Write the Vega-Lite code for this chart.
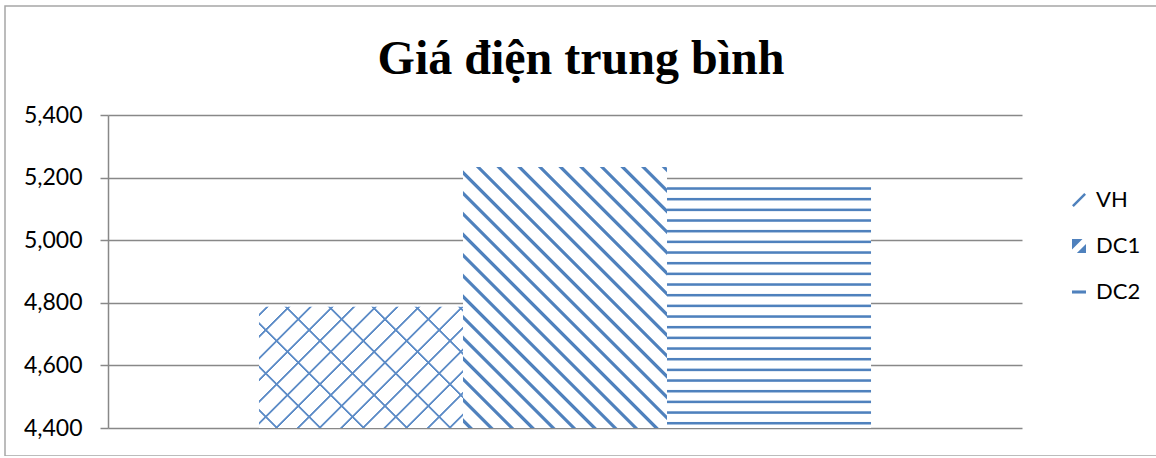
{
  "$schema": "https://vega.github.io/schema/vega-lite/v6.json",
  "width": 1160,
  "height": 450,
  "autosize": {"type": "none"},
  "padding": {"left": 5, "top": 6, "right": 0, "bottom": 0},
  "background": "white",
  "title": {
    "text": "Giá điện trung bình",
    "font": "Liberation Serif",
    "fontSize": 48,
    "fontWeight": "bold",
    "color": "black",
    "anchor": "middle",
    "baseline": "alphabetic",
    "offset": -116,
    "dx": -4
  },
  "data": {
    "values": [
      {"series": "VH", "price": 4787},
      {"series": "DC1", "price": 5234},
      {"series": "DC2", "price": 5175}
    ]
  },
  "encoding": {
    "x": {
      "field": "series",
      "type": "nominal",
      "sort": ["VH", "DC1", "DC2"],
      "scale": {"domain": ["VH", "DC1", "DC2"], "range": [103, 1017], "paddingInner": 0, "paddingOuter": 0.74},
      "axis": null
    },
    "y": {
      "field": "price",
      "type": "quantitative",
      "scale": {"domain": [4400, 5400], "range": [422, 109], "nice": false, "zero": false},
      "axis": {
        "title": null,
        "orient": "left",
        "offset": -103,
        "values": [4400, 4600, 4800, 5000, 5200, 5400],
        "format": ",d",
        "grid": true,
        "gridColor": "#888888",
        "gridWidth": 1.5,
        "domain": true,
        "domainColor": "#888888",
        "domainWidth": 1.5,
        "ticks": true,
        "tickColor": "#888888",
        "tickWidth": 1.5,
        "tickSize": 8,
        "labelPadding": 18,
        "labelFont": "Lato",
        "labelFontSize": 23,
        "labelColor": "black"
      }
    }
  },
  "layer": [
    {
      "transform": [{"filter": "datum.series === 'VH'"}],
      "mark": {
        "type": "bar",
        "fill": {
          "gradient": "linear", "x1": 0, "y1": 0, "x2": 1.1784, "y2": 0.6995,
          "stops": [
            {"offset": 0, "color": "#ffffff"},
            {"offset": 0.0200, "color": "#ffffff"}, {"offset": 0.0230, "color": "#5d8cc7"}, {"offset": 0.0280, "color": "#5d8cc7"}, {"offset": 0.0310, "color": "#ffffff"},
            {"offset": 0.0867, "color": "#ffffff"}, {"offset": 0.0897, "color": "#5d8cc7"}, {"offset": 0.0947, "color": "#5d8cc7"}, {"offset": 0.0977, "color": "#ffffff"},
            {"offset": 0.1533, "color": "#ffffff"}, {"offset": 0.1563, "color": "#5d8cc7"}, {"offset": 0.1613, "color": "#5d8cc7"}, {"offset": 0.1643, "color": "#ffffff"},
            {"offset": 0.2200, "color": "#ffffff"}, {"offset": 0.2230, "color": "#5d8cc7"}, {"offset": 0.2280, "color": "#5d8cc7"}, {"offset": 0.2310, "color": "#ffffff"},
            {"offset": 0.2867, "color": "#ffffff"}, {"offset": 0.2897, "color": "#5d8cc7"}, {"offset": 0.2947, "color": "#5d8cc7"}, {"offset": 0.2977, "color": "#ffffff"},
            {"offset": 0.3533, "color": "#ffffff"}, {"offset": 0.3563, "color": "#5d8cc7"}, {"offset": 0.3613, "color": "#5d8cc7"}, {"offset": 0.3643, "color": "#ffffff"},
            {"offset": 0.4200, "color": "#ffffff"}, {"offset": 0.4230, "color": "#5d8cc7"}, {"offset": 0.4280, "color": "#5d8cc7"}, {"offset": 0.4310, "color": "#ffffff"},
            {"offset": 0.4867, "color": "#ffffff"}, {"offset": 0.4897, "color": "#5d8cc7"}, {"offset": 0.4947, "color": "#5d8cc7"}, {"offset": 0.4977, "color": "#ffffff"},
            {"offset": 0.5533, "color": "#ffffff"}, {"offset": 0.5563, "color": "#5d8cc7"}, {"offset": 0.5613, "color": "#5d8cc7"}, {"offset": 0.5643, "color": "#ffffff"},
            {"offset": 0.6200, "color": "#ffffff"}, {"offset": 0.6230, "color": "#5d8cc7"}, {"offset": 0.6280, "color": "#5d8cc7"}, {"offset": 0.6310, "color": "#ffffff"},
            {"offset": 0.6867, "color": "#ffffff"}, {"offset": 0.6897, "color": "#5d8cc7"}, {"offset": 0.6947, "color": "#5d8cc7"}, {"offset": 0.6977, "color": "#ffffff"},
            {"offset": 0.7533, "color": "#ffffff"}, {"offset": 0.7563, "color": "#5d8cc7"}, {"offset": 0.7613, "color": "#5d8cc7"}, {"offset": 0.7643, "color": "#ffffff"},
            {"offset": 0.8200, "color": "#ffffff"}, {"offset": 0.8230, "color": "#5d8cc7"}, {"offset": 0.8280, "color": "#5d8cc7"}, {"offset": 0.8310, "color": "#ffffff"},
            {"offset": 0.8867, "color": "#ffffff"}, {"offset": 0.8897, "color": "#5d8cc7"}, {"offset": 0.8947, "color": "#5d8cc7"}, {"offset": 0.8977, "color": "#ffffff"},
            {"offset": 0.9533, "color": "#ffffff"}, {"offset": 0.9563, "color": "#5d8cc7"}, {"offset": 0.9613, "color": "#5d8cc7"}, {"offset": 0.9643, "color": "#ffffff"},
            {"offset": 1, "color": "#ffffff"}
          ]
        }
      },
      "encoding": {"y2": {"datum": 4400}}
    },
    {
      "transform": [{"filter": "datum.series === 'VH'"}],
      "mark": {
        "type": "bar",
        "fill": {
          "gradient": "linear", "x1": 0, "y1": 1, "x2": 1.1784, "y2": 0.3005,
          "stops": [
            {"offset": 0, "color": "rgba(93,140,199,0)"},
            {"offset": 0.0500, "color": "rgba(93,140,199,0)"}, {"offset": 0.0530, "color": "#5d8cc7"}, {"offset": 0.0580, "color": "#5d8cc7"}, {"offset": 0.0610, "color": "rgba(93,140,199,0)"},
            {"offset": 0.1833, "color": "rgba(93,140,199,0)"}, {"offset": 0.1863, "color": "#5d8cc7"}, {"offset": 0.1913, "color": "#5d8cc7"}, {"offset": 0.1943, "color": "rgba(93,140,199,0)"},
            {"offset": 0.3167, "color": "rgba(93,140,199,0)"}, {"offset": 0.3197, "color": "#5d8cc7"}, {"offset": 0.3247, "color": "#5d8cc7"}, {"offset": 0.3277, "color": "rgba(93,140,199,0)"},
            {"offset": 0.4500, "color": "rgba(93,140,199,0)"}, {"offset": 0.4530, "color": "#5d8cc7"}, {"offset": 0.4580, "color": "#5d8cc7"}, {"offset": 0.4610, "color": "rgba(93,140,199,0)"},
            {"offset": 0.5833, "color": "rgba(93,140,199,0)"}, {"offset": 0.5863, "color": "#5d8cc7"}, {"offset": 0.5913, "color": "#5d8cc7"}, {"offset": 0.5943, "color": "rgba(93,140,199,0)"},
            {"offset": 0.7167, "color": "rgba(93,140,199,0)"}, {"offset": 0.7197, "color": "#5d8cc7"}, {"offset": 0.7247, "color": "#5d8cc7"}, {"offset": 0.7277, "color": "rgba(93,140,199,0)"},
            {"offset": 0.8500, "color": "rgba(93,140,199,0)"}, {"offset": 0.8530, "color": "#5d8cc7"}, {"offset": 0.8580, "color": "#5d8cc7"}, {"offset": 0.8610, "color": "rgba(93,140,199,0)"},
            {"offset": 0.9833, "color": "rgba(93,140,199,0)"}, {"offset": 0.9863, "color": "#5d8cc7"}, {"offset": 0.9913, "color": "#5d8cc7"}, {"offset": 0.9943, "color": "rgba(93,140,199,0)"},
            {"offset": 1, "color": "rgba(93,140,199,0)"}
          ]
        }
      },
      "encoding": {"y2": {"datum": 4400}}
    },
    {
      "transform": [{"filter": "datum.series === 'DC1'"}],
      "mark": {
        "type": "bar",
        "fill": {
          "gradient": "linear", "x1": 0, "y1": 1, "x2": 0.8644, "y2": -0.1060,
          "stops": [
            {"offset": 0, "color": "#ffffff"},
            {"offset": 0.0100, "color": "#ffffff"}, {"offset": 0.0130, "color": "#4f81bd"}, {"offset": 0.0198, "color": "#4f81bd"}, {"offset": 0.0228, "color": "#ffffff"},
            {"offset": 0.0544, "color": "#ffffff"}, {"offset": 0.0574, "color": "#4f81bd"}, {"offset": 0.0642, "color": "#4f81bd"}, {"offset": 0.0672, "color": "#ffffff"},
            {"offset": 0.0988, "color": "#ffffff"}, {"offset": 0.1018, "color": "#4f81bd"}, {"offset": 0.1086, "color": "#4f81bd"}, {"offset": 0.1116, "color": "#ffffff"},
            {"offset": 0.1432, "color": "#ffffff"}, {"offset": 0.1462, "color": "#4f81bd"}, {"offset": 0.1530, "color": "#4f81bd"}, {"offset": 0.1560, "color": "#ffffff"},
            {"offset": 0.1876, "color": "#ffffff"}, {"offset": 0.1906, "color": "#4f81bd"}, {"offset": 0.1974, "color": "#4f81bd"}, {"offset": 0.2004, "color": "#ffffff"},
            {"offset": 0.2320, "color": "#ffffff"}, {"offset": 0.2350, "color": "#4f81bd"}, {"offset": 0.2418, "color": "#4f81bd"}, {"offset": 0.2448, "color": "#ffffff"},
            {"offset": 0.2764, "color": "#ffffff"}, {"offset": 0.2794, "color": "#4f81bd"}, {"offset": 0.2862, "color": "#4f81bd"}, {"offset": 0.2892, "color": "#ffffff"},
            {"offset": 0.3208, "color": "#ffffff"}, {"offset": 0.3238, "color": "#4f81bd"}, {"offset": 0.3306, "color": "#4f81bd"}, {"offset": 0.3336, "color": "#ffffff"},
            {"offset": 0.3652, "color": "#ffffff"}, {"offset": 0.3682, "color": "#4f81bd"}, {"offset": 0.3750, "color": "#4f81bd"}, {"offset": 0.3780, "color": "#ffffff"},
            {"offset": 0.4096, "color": "#ffffff"}, {"offset": 0.4126, "color": "#4f81bd"}, {"offset": 0.4194, "color": "#4f81bd"}, {"offset": 0.4224, "color": "#ffffff"},
            {"offset": 0.4540, "color": "#ffffff"}, {"offset": 0.4570, "color": "#4f81bd"}, {"offset": 0.4638, "color": "#4f81bd"}, {"offset": 0.4668, "color": "#ffffff"},
            {"offset": 0.4984, "color": "#ffffff"}, {"offset": 0.5014, "color": "#4f81bd"}, {"offset": 0.5082, "color": "#4f81bd"}, {"offset": 0.5112, "color": "#ffffff"},
            {"offset": 0.5428, "color": "#ffffff"}, {"offset": 0.5458, "color": "#4f81bd"}, {"offset": 0.5526, "color": "#4f81bd"}, {"offset": 0.5556, "color": "#ffffff"},
            {"offset": 0.5872, "color": "#ffffff"}, {"offset": 0.5902, "color": "#4f81bd"}, {"offset": 0.5970, "color": "#4f81bd"}, {"offset": 0.6000, "color": "#ffffff"},
            {"offset": 0.6316, "color": "#ffffff"}, {"offset": 0.6346, "color": "#4f81bd"}, {"offset": 0.6414, "color": "#4f81bd"}, {"offset": 0.6444, "color": "#ffffff"},
            {"offset": 0.6760, "color": "#ffffff"}, {"offset": 0.6790, "color": "#4f81bd"}, {"offset": 0.6858, "color": "#4f81bd"}, {"offset": 0.6888, "color": "#ffffff"},
            {"offset": 0.7204, "color": "#ffffff"}, {"offset": 0.7234, "color": "#4f81bd"}, {"offset": 0.7302, "color": "#4f81bd"}, {"offset": 0.7332, "color": "#ffffff"},
            {"offset": 0.7648, "color": "#ffffff"}, {"offset": 0.7678, "color": "#4f81bd"}, {"offset": 0.7746, "color": "#4f81bd"}, {"offset": 0.7776, "color": "#ffffff"},
            {"offset": 0.8092, "color": "#ffffff"}, {"offset": 0.8122, "color": "#4f81bd"}, {"offset": 0.8190, "color": "#4f81bd"}, {"offset": 0.8220, "color": "#ffffff"},
            {"offset": 0.8536, "color": "#ffffff"}, {"offset": 0.8566, "color": "#4f81bd"}, {"offset": 0.8634, "color": "#4f81bd"}, {"offset": 0.8664, "color": "#ffffff"},
            {"offset": 0.8980, "color": "#ffffff"}, {"offset": 0.9010, "color": "#4f81bd"}, {"offset": 0.9078, "color": "#4f81bd"}, {"offset": 0.9108, "color": "#ffffff"},
            {"offset": 0.9424, "color": "#ffffff"}, {"offset": 0.9454, "color": "#4f81bd"}, {"offset": 0.9522, "color": "#4f81bd"}, {"offset": 0.9552, "color": "#ffffff"},
            {"offset": 0.9868, "color": "#ffffff"}, {"offset": 0.9898, "color": "#4f81bd"}, {"offset": 0.9966, "color": "#4f81bd"}, {"offset": 0.9996, "color": "#ffffff"},
            {"offset": 1, "color": "#ffffff"}
          ]
        }
      },
      "encoding": {"y2": {"datum": 4400}}
    },
    {
      "transform": [{"filter": "datum.series === 'DC2'"}],
      "mark": {
        "type": "bar",
        "fill": {
          "gradient": "linear", "x1": 0, "y1": 0, "x2": 0, "y2": 1,
          "stops": [
            {"offset": 0, "color": "#ffffff"},
            {"offset": 0.0055, "color": "#ffffff"}, {"offset": 0.0095, "color": "#4f81bd"}, {"offset": 0.0160, "color": "#4f81bd"}, {"offset": 0.0200, "color": "#ffffff"},
            {"offset": 0.0495, "color": "#ffffff"}, {"offset": 0.0535, "color": "#4f81bd"}, {"offset": 0.0600, "color": "#4f81bd"}, {"offset": 0.0640, "color": "#ffffff"},
            {"offset": 0.0935, "color": "#ffffff"}, {"offset": 0.0975, "color": "#4f81bd"}, {"offset": 0.1040, "color": "#4f81bd"}, {"offset": 0.1080, "color": "#ffffff"},
            {"offset": 0.1374, "color": "#ffffff"}, {"offset": 0.1414, "color": "#4f81bd"}, {"offset": 0.1479, "color": "#4f81bd"}, {"offset": 0.1519, "color": "#ffffff"},
            {"offset": 0.1814, "color": "#ffffff"}, {"offset": 0.1854, "color": "#4f81bd"}, {"offset": 0.1919, "color": "#4f81bd"}, {"offset": 0.1959, "color": "#ffffff"},
            {"offset": 0.2254, "color": "#ffffff"}, {"offset": 0.2294, "color": "#4f81bd"}, {"offset": 0.2359, "color": "#4f81bd"}, {"offset": 0.2399, "color": "#ffffff"},
            {"offset": 0.2694, "color": "#ffffff"}, {"offset": 0.2734, "color": "#4f81bd"}, {"offset": 0.2799, "color": "#4f81bd"}, {"offset": 0.2839, "color": "#ffffff"},
            {"offset": 0.3134, "color": "#ffffff"}, {"offset": 0.3174, "color": "#4f81bd"}, {"offset": 0.3239, "color": "#4f81bd"}, {"offset": 0.3279, "color": "#ffffff"},
            {"offset": 0.3573, "color": "#ffffff"}, {"offset": 0.3613, "color": "#4f81bd"}, {"offset": 0.3678, "color": "#4f81bd"}, {"offset": 0.3718, "color": "#ffffff"},
            {"offset": 0.4013, "color": "#ffffff"}, {"offset": 0.4053, "color": "#4f81bd"}, {"offset": 0.4118, "color": "#4f81bd"}, {"offset": 0.4158, "color": "#ffffff"},
            {"offset": 0.4453, "color": "#ffffff"}, {"offset": 0.4493, "color": "#4f81bd"}, {"offset": 0.4558, "color": "#4f81bd"}, {"offset": 0.4598, "color": "#ffffff"},
            {"offset": 0.4893, "color": "#ffffff"}, {"offset": 0.4933, "color": "#4f81bd"}, {"offset": 0.4998, "color": "#4f81bd"}, {"offset": 0.5038, "color": "#ffffff"},
            {"offset": 0.5333, "color": "#ffffff"}, {"offset": 0.5373, "color": "#4f81bd"}, {"offset": 0.5438, "color": "#4f81bd"}, {"offset": 0.5478, "color": "#ffffff"},
            {"offset": 0.5772, "color": "#ffffff"}, {"offset": 0.5812, "color": "#4f81bd"}, {"offset": 0.5877, "color": "#4f81bd"}, {"offset": 0.5917, "color": "#ffffff"},
            {"offset": 0.6212, "color": "#ffffff"}, {"offset": 0.6252, "color": "#4f81bd"}, {"offset": 0.6317, "color": "#4f81bd"}, {"offset": 0.6357, "color": "#ffffff"},
            {"offset": 0.6652, "color": "#ffffff"}, {"offset": 0.6692, "color": "#4f81bd"}, {"offset": 0.6757, "color": "#4f81bd"}, {"offset": 0.6797, "color": "#ffffff"},
            {"offset": 0.7092, "color": "#ffffff"}, {"offset": 0.7132, "color": "#4f81bd"}, {"offset": 0.7197, "color": "#4f81bd"}, {"offset": 0.7237, "color": "#ffffff"},
            {"offset": 0.7532, "color": "#ffffff"}, {"offset": 0.7572, "color": "#4f81bd"}, {"offset": 0.7637, "color": "#4f81bd"}, {"offset": 0.7677, "color": "#ffffff"},
            {"offset": 0.7971, "color": "#ffffff"}, {"offset": 0.8011, "color": "#4f81bd"}, {"offset": 0.8076, "color": "#4f81bd"}, {"offset": 0.8116, "color": "#ffffff"},
            {"offset": 0.8411, "color": "#ffffff"}, {"offset": 0.8451, "color": "#4f81bd"}, {"offset": 0.8516, "color": "#4f81bd"}, {"offset": 0.8556, "color": "#ffffff"},
            {"offset": 0.8851, "color": "#ffffff"}, {"offset": 0.8891, "color": "#4f81bd"}, {"offset": 0.8956, "color": "#4f81bd"}, {"offset": 0.8996, "color": "#ffffff"},
            {"offset": 0.9291, "color": "#ffffff"}, {"offset": 0.9331, "color": "#4f81bd"}, {"offset": 0.9396, "color": "#4f81bd"}, {"offset": 0.9436, "color": "#ffffff"},
            {"offset": 0.9731, "color": "#ffffff"}, {"offset": 0.9771, "color": "#4f81bd"}, {"offset": 0.9836, "color": "#4f81bd"}, {"offset": 0.9876, "color": "#ffffff"},
            {"offset": 1, "color": "#ffffff"}
          ]
        }
      },
      "encoding": {"y2": {"datum": 4400}}
    },
    {
      "mark": {
        "type": "point",
        "filled": true,
        "color": "#4f81bd",
        "opacity": 0,
        "size": 196
      },
      "encoding": {
        "shape": {
          "field": "series",
          "type": "nominal",
          "sort": ["VH", "DC1", "DC2"],
          "scale": {
            "domain": ["VH", "DC1", "DC2"],
            "range": [
              "M-1,0.75L0.75,-1L1,-0.75L-0.75,1Z",
              "M-1,-1L0.5,-1L-1,0.5Z M1,-0.3L1,1L-0.3,1Z",
              "M-1,-0.22L1,-0.22L1,0.22L-1,0.22Z"
            ]
          },
          "legend": {
            "title": null,
            "orient": "none",
            "legendX": 1063,
            "legendY": 183,
            "padding": 0,
            "symbolSize": 196,
            "symbolStrokeWidth": 0,
            "symbolFillColor": "#4f81bd",
            "symbolOpacity": 1,
            "labelFont": "Lato",
            "labelFontSize": 22,
            "labelColor": "black",
            "labelOffset": 6,
            "rowPadding": 24
          }
        }
      }
    }
  ],
  "config": {
    "view": {"stroke": "#a6a6a6", "strokeWidth": 1.5}
  }
}
